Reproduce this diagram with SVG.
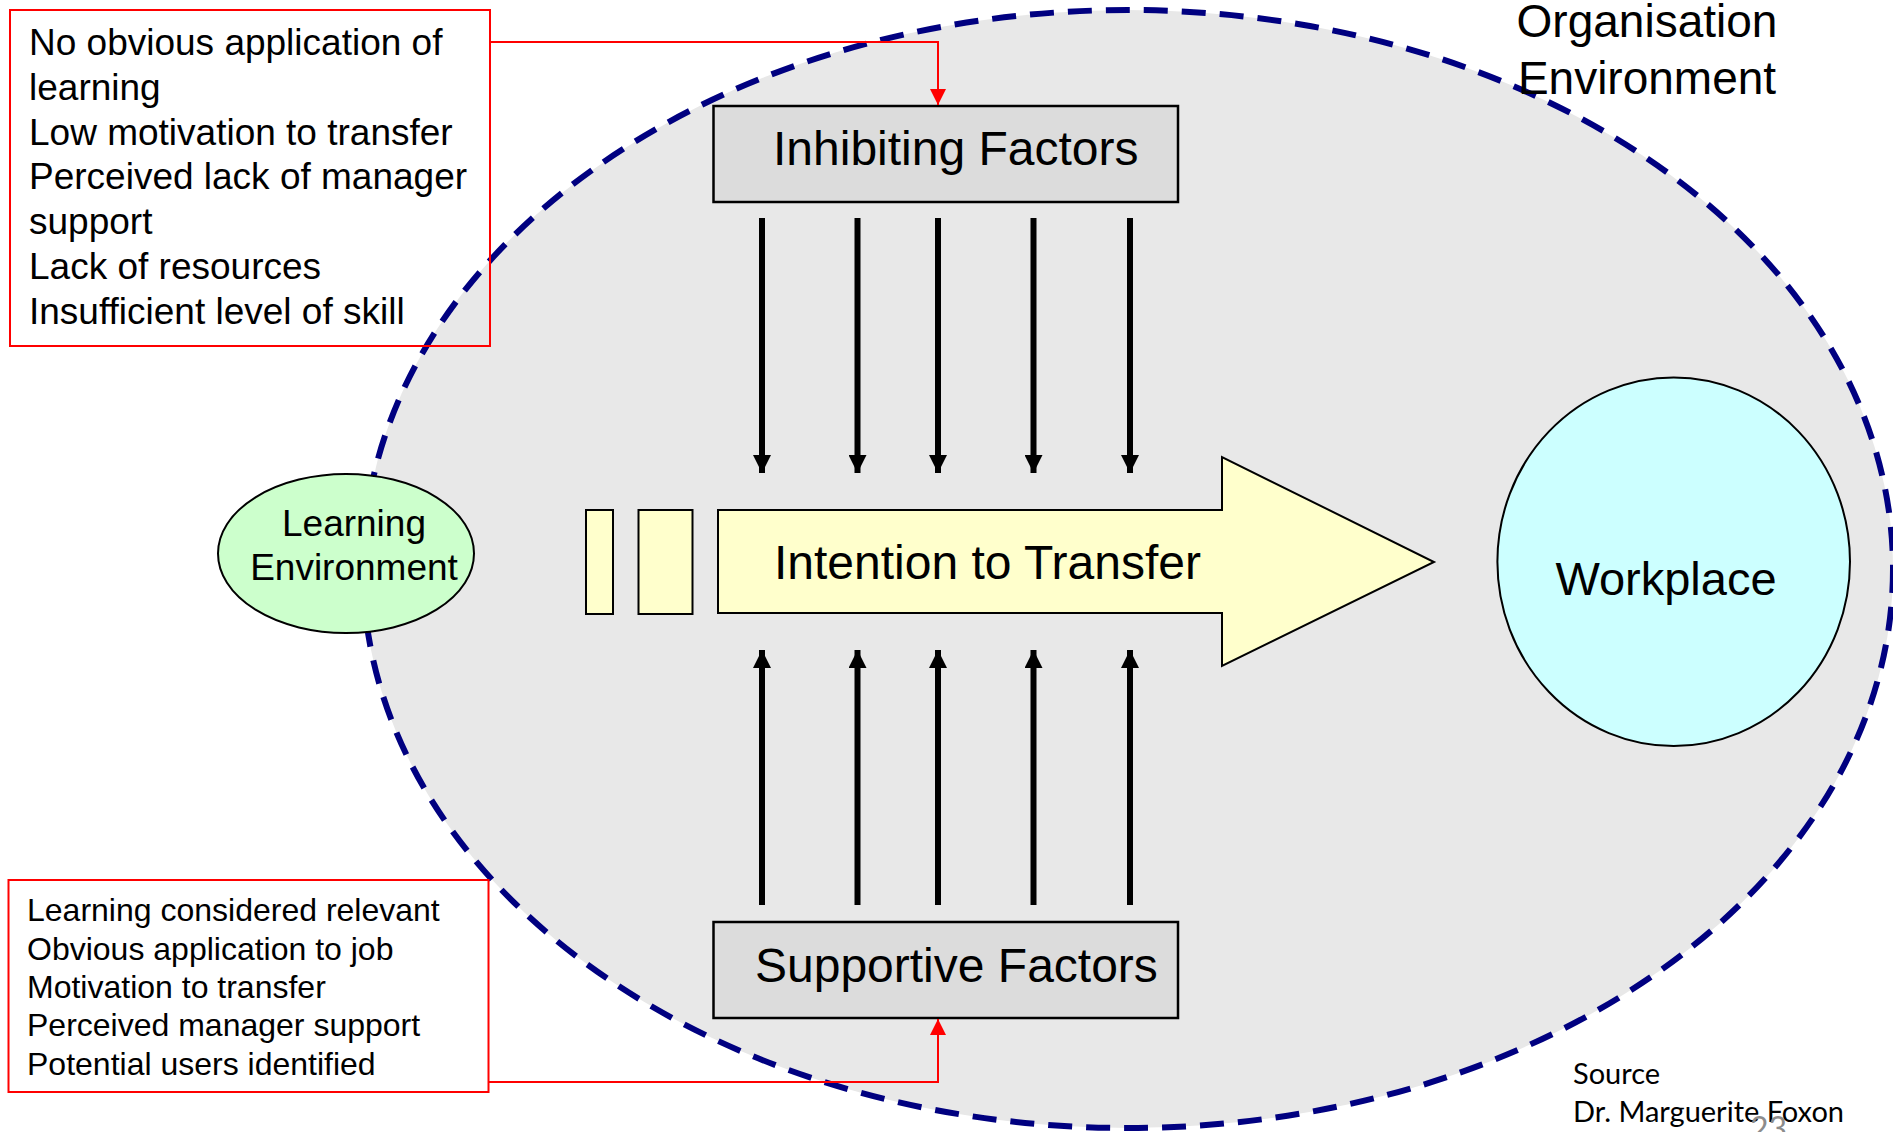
<svg xmlns="http://www.w3.org/2000/svg" width="1893" height="1132" viewBox="0 0 1893 1132">
  <style>
    .sans { font-family: "Liberation Sans", Arial, sans-serif; fill: #000; }
    .box { fill: #dcdcdc; stroke: #000; stroke-width: 2.5; }
    .note { fill: none; stroke: #ff0000; stroke-width: 2; }
    .link { fill: none; stroke: #ff0000; stroke-width: 2; }
    .force { stroke: #000; stroke-width: 6; fill: none; }
    .note-text { font-size: 37px; }
    .note-text-sm { font-size: 32px; }
    .label { font-size: 48px; }
  </style>
  <defs>
    <marker id="redHead" markerWidth="16" markerHeight="16" viewBox="0 0 16 16" refX="16" refY="8" orient="auto" markerUnits="userSpaceOnUse">
      <path d="M0,0 L16,8 L0,16 Z" fill="#ff0000"/>
    </marker>
    <marker id="blackHead" markerWidth="18" markerHeight="18" viewBox="0 0 18 18" refX="18" refY="9" orient="auto" markerUnits="userSpaceOnUse">
      <path d="M0,0 L18,9 L0,18 Z" fill="#000"/>
    </marker>
  </defs>

  <rect width="1893" height="1132" fill="#ffffff"/>

  <!-- organisation environment: filled region -->
  <g id="organisation-environment">
    <ellipse cx="1128" cy="569" rx="765" ry="559" fill="#e8e8e8"/>
    <ellipse cx="1128" cy="569" rx="765" ry="559" fill="none" stroke="#000080" stroke-width="6" stroke-dasharray="24 14"/>
    <text class="sans" font-size="46" text-anchor="middle" x="1647" y="37">Organisation</text>
    <text class="sans" font-size="46" text-anchor="middle" x="1647" y="94">Environment</text>
  </g>

  <!-- learning environment -->
  <g id="learning-environment">
    <ellipse cx="346" cy="553.5" rx="128" ry="79.5" fill="#ccffcc" stroke="#000" stroke-width="2"/>
    <text class="sans" font-size="37" text-anchor="middle" x="354" y="536">Learning</text>
    <text class="sans" font-size="37" text-anchor="middle" x="354" y="580">Environment</text>
  </g>

  <!-- intention to transfer arrow with lead-in blocks -->
  <g id="intention-to-transfer">
    <rect x="586" y="510" width="27" height="104" fill="#ffffcc" stroke="#000" stroke-width="2"/>
    <rect x="638.5" y="510" width="54" height="104" fill="#ffffcc" stroke="#000" stroke-width="2"/>
    <polygon points="718,510 1222,510 1222,457 1434,562 1222,666 1222,613 718,613" fill="#ffffcc" stroke="#000" stroke-width="2"/>
    <text class="sans label" x="774" y="579">Intention to Transfer</text>
  </g>

  <!-- workplace -->
  <g id="workplace">
    <ellipse cx="1673.7" cy="561.7" rx="176.3" ry="184.3" fill="#ccffff" stroke="#000" stroke-width="2"/>
    <text class="sans" font-size="47" text-anchor="middle" x="1666" y="595">Workplace</text>
  </g>

  <!-- inhibiting factors -->
  <g id="inhibiting-factors">
    <rect class="box" x="713.5" y="106" width="464.5" height="96"/>
    <text class="sans label" x="773" y="165">Inhibiting Factors</text>
  </g>

  <!-- supportive factors -->
  <g id="supportive-factors">
    <rect class="box" x="713.5" y="922" width="464.5" height="96"/>
    <text class="sans label" x="755" y="982">Supportive Factors</text>
  </g>

  <!-- inhibiting factor list -->
  <g id="inhibiting-list">
    <rect class="note" x="10" y="10" width="480" height="336"/>
    <text class="sans note-text" x="29">
      <tspan x="29" y="55">No obvious application of</tspan>
      <tspan x="29" y="100">learning</tspan>
      <tspan x="29" y="145">Low motivation to transfer</tspan>
      <tspan x="29" y="189">Perceived lack of manager</tspan>
      <tspan x="29" y="234">support</tspan>
      <tspan x="29" y="279">Lack of resources</tspan>
      <tspan x="29" y="324">Insufficient level of skill</tspan>
    </text>
  </g>

  <!-- supportive factor list -->
  <g id="supportive-list">
    <rect class="note" x="8.5" y="880" width="480" height="212"/>
    <text class="sans note-text-sm" x="27">
      <tspan x="27" y="921">Learning considered relevant</tspan>
      <tspan x="27" y="959.5">Obvious application to job</tspan>
      <tspan x="27" y="998">Motivation to transfer</tspan>
      <tspan x="27" y="1036">Perceived manager support</tspan>
      <tspan x="27" y="1074.5">Potential users identified</tspan>
    </text>
  </g>

  <!-- connectors -->
  <g id="connectors">
    <path class="link" d="M490,42 H938 V105" marker-end="url(#redHead)"/>
    <path class="link" d="M488,1082 H938 V1019" marker-end="url(#redHead)"/>

    <line class="force" x1="762" y1="218" x2="762" y2="473" marker-end="url(#blackHead)"/>
    <line class="force" x1="857.5" y1="218" x2="857.5" y2="473" marker-end="url(#blackHead)"/>
    <line class="force" x1="938" y1="218" x2="938" y2="473" marker-end="url(#blackHead)"/>
    <line class="force" x1="1033.5" y1="218" x2="1033.5" y2="473" marker-end="url(#blackHead)"/>
    <line class="force" x1="1130" y1="218" x2="1130" y2="473" marker-end="url(#blackHead)"/>

    <line class="force" x1="762" y1="905" x2="762" y2="650" marker-end="url(#blackHead)"/>
    <line class="force" x1="857.5" y1="905" x2="857.5" y2="650" marker-end="url(#blackHead)"/>
    <line class="force" x1="938" y1="905" x2="938" y2="650" marker-end="url(#blackHead)"/>
    <line class="force" x1="1033.5" y1="905" x2="1033.5" y2="650" marker-end="url(#blackHead)"/>
    <line class="force" x1="1130" y1="905" x2="1130" y2="650" marker-end="url(#blackHead)"/>
  </g>

  <!-- source credit and page number -->
  <g id="source">
    <text font-family="Lato, 'Open Sans', sans-serif" font-size="29" fill="#000" x="1573" y="1084">Source</text>
    <text font-family="Lato, 'Open Sans', sans-serif" font-size="29" fill="#000" x="1573" y="1122">Dr. Marguerite Foxon</text>
    <text font-family="Lato, 'Open Sans', sans-serif" font-size="32" fill="#8c8c8c" x="1750" y="1140">23</text>
  </g>
</svg>
